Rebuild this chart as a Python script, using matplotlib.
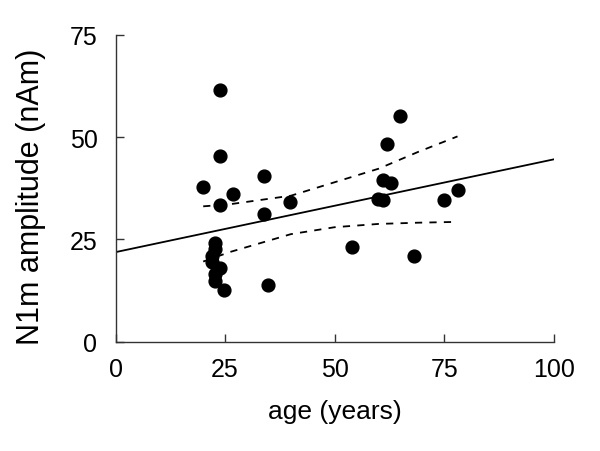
import matplotlib
matplotlib.use("Agg")
import matplotlib.pyplot as plt

plt.rcParams['font.family'] = ['Liberation Sans', 'DejaVu Sans']

# subjects: age (years) and N1m amplitude (nAm)
age = [23.8, 23.8, 33.9, 19.9, 26.8, 23.8, 39.9, 33.9, 22.8, 22.8,
       21.9, 21.9, 23.8, 22.8, 22.8, 24.8, 34.8, 64.8, 62.0, 60.9,
       62.9, 59.9, 61.0, 74.9, 78.0, 53.9, 68.0]
amp = [61.6, 45.3, 40.4, 37.9, 36.0, 33.5, 34.2, 31.3, 24.1, 22.7,
       21.0, 19.4, 18.0, 16.6, 14.9, 12.6, 13.9, 55.3, 48.3, 39.5,
       38.8, 34.9, 34.6, 34.7, 37.1, 23.1, 21.0]

# regression line
fit_x = [0, 100]
fit_y = [21.9, 44.6]

# confidence band
band_x = [20, 26, 40, 50, 60, 69, 78]
band_hi = [33.1, 33.6, 35.7, 39.0, 42.3, 46.4, 50.2]
band_lo = [19.6, 21.9, 26.3, 28.0, 28.8, 29.1, 29.3]

fig = plt.figure(figsize=(6, 4.52), dpi=100)
ax = fig.add_axes([0.1925, 0.2418, 0.7308, 0.6786])

ax.plot(fit_x, fit_y, color='black', lw=1.3)
ax.plot(band_x, band_hi, color='black', lw=1.3, ls=(0, (4, 4)))
ax.plot(band_x, band_lo, color='black', lw=1.3, ls=(0, (4, 4)))
ax.scatter(age, amp, s=85, color='black', zorder=3, clip_on=False)

ax.set_xlim(0, 100)
ax.set_ylim(0, 75)
ax.set_xticks([0, 25, 50, 75, 100])
ax.set_yticks([0, 25, 50, 75])

for side in ['top', 'right']:
    ax.spines[side].set_visible(False)
for side in ['left', 'bottom']:
    ax.spines[side].set_color('#333333')
    ax.spines[side].set_linewidth(1.0)

ax.tick_params(direction='in', length=5.5, width=1.0, color='#333333',
               labelsize=18, pad=11)
ax.tick_params(axis='y', pad=13)

ax.set_xlabel('age (years)', fontsize=19, labelpad=13)
ax.set_ylabel('N1m amplitude (nAm)', fontsize=22)
ax.yaxis.set_label_coords(-0.158, 0.475)

fig.savefig('out.png', dpi=100)
